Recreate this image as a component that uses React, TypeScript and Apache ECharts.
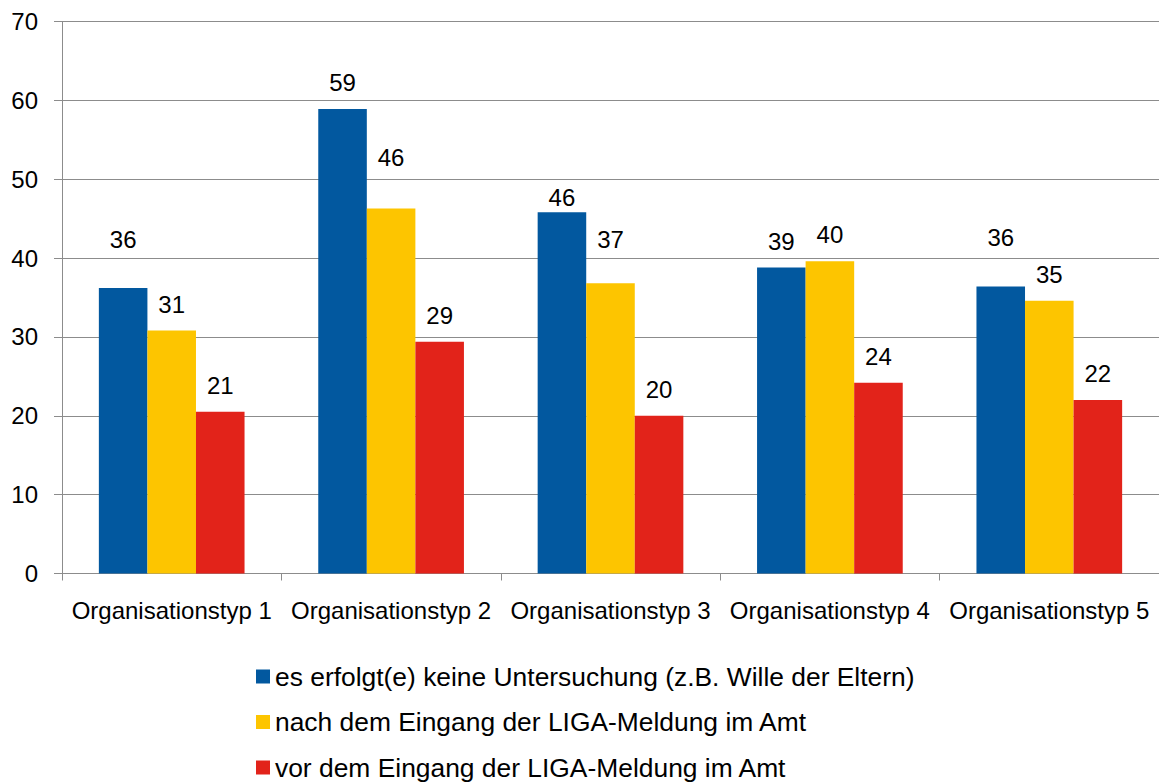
import React, { useEffect, useRef } from "react";
import * as echarts from "echarts";

const categories = [
  "Organisationstyp 1",
  "Organisationstyp 2",
  "Organisationstyp 3",
  "Organisationstyp 4",
  "Organisationstyp 5",
];

const seriesNames = [
  "es erfolgt(e) keine Untersuchung (z.B. Wille der Eltern)",
  "nach dem Eingang der LIGA-Meldung im Amt",
  "vor dem Eingang der LIGA-Meldung im Amt",
];

const keineUntersuchung = [36.2, 58.9, 45.8, 38.8, 36.4];
const nachEingang = [30.8, 46.3, 36.8, 39.6, 34.6];
const vorEingang = [20.5, 29.4, 20.0, 24.2, 22.0];

const yTicks = [0, 10, 20, 30, 40, 50, 60, 70];

// layout only: distance of each value label above its bar (px)
const labelDistances = [
  [37, 14.5, 3, 14.3, 37],
  [14.3, 38.5, 32, 15, 14],
  [14, 13.7, 14.7, 14.3, 14.8],
];

const colors = ["#02589F", "#FDC500", "#E2231A"];
const FONT = "'Liberation Sans', Arial, sans-serif";

export default function App() {
  const ref = useRef<HTMLDivElement>(null);

  useEffect(() => {
    if (!ref.current) return;
    const chart = echarts.init(ref.current, null, { renderer: "svg" });
    const allValues = [keineUntersuchung, nachEingang, vorEingang];

    chart.setOption({
      animation: false,
      backgroundColor: "#ffffff",
      textStyle: { fontFamily: FONT, color: "#000" },
      grid: { left: 62, top: 21.5, width: 1100, height: 552, containLabel: false },
      legend: {
        orient: "vertical",
        left: 256,
        top: 663.5,
        height: 300,
        padding: 0,
        icon: "rect",
        itemWidth: 14,
        itemHeight: 14,
        itemGap: 19.5,
        textStyle: { fontSize: 26.4, fontFamily: FONT, color: "#000" },
        data: seriesNames,
      },
      xAxis: {
        type: "category",
        data: categories,
        axisLine: { show: true, lineStyle: { color: "#8c8c8c", width: 1 } },
        axisTick: { show: true, alignWithLabel: false, length: 7, lineStyle: { color: "#8c8c8c" } },
        axisLabel: { fontSize: 24, fontFamily: FONT, color: "#000", margin: 25, interval: 0 },
      },
      yAxis: {
        type: "value",
        min: yTicks[0],
        max: yTicks[yTicks.length - 1],
        interval: 10,
        axisLine: { show: true, lineStyle: { color: "#8c8c8c", width: 1 } },
        axisTick: { show: true, length: 8, lineStyle: { color: "#8c8c8c" } },
        splitLine: { show: true, lineStyle: { color: "#8c8c8c", width: 1 } },
        axisLabel: { fontSize: 24, fontFamily: FONT, color: "#000", margin: 24 },
      },
      series: allValues.map((vals, si) => ({
        name: seriesNames[si],
        type: "bar",
        barGap: "0%",
        barCategoryGap: "33.6%",
        itemStyle: { color: colors[si] },
        label: {
          show: true,
          position: "top",
          fontSize: 24,
          fontFamily: FONT,
          color: "#000",
          formatter: (p: any) => String(Math.round(p.value)),
        },
        data: vals.map((v, i) => ({
          value: v,
          label: { distance: labelDistances[si][i] },
        })),
      })),
    });

    return () => chart.dispose();
  }, []);

  return (
    <div
      ref={ref}
      style={{ position: "fixed", left: 0, top: 0, width: 1159, height: 782 }}
    />
  );
}
